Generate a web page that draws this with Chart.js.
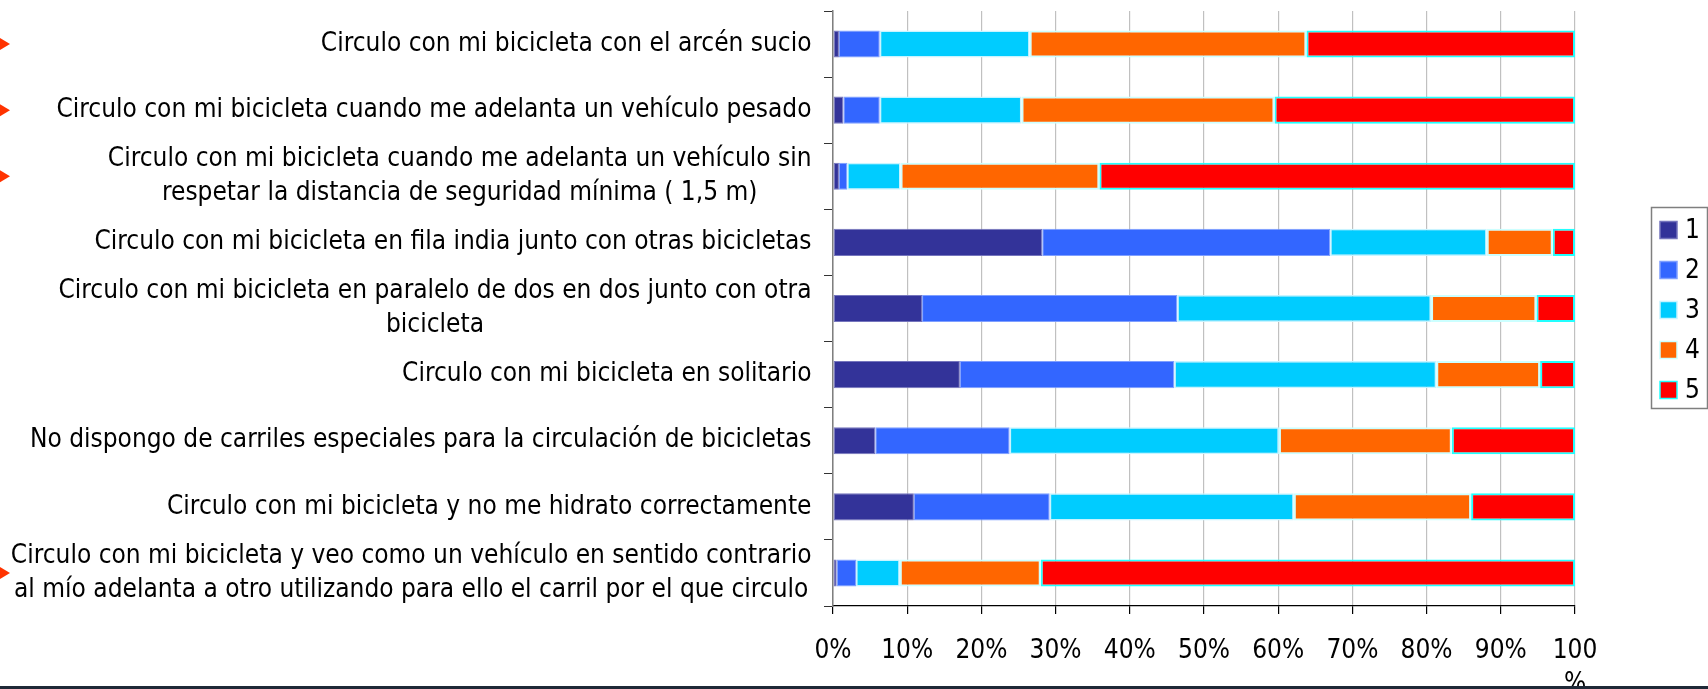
<!DOCTYPE html>
<html>
<head>
<meta charset="utf-8">
<script src="https://cdn.jsdelivr.net/npm/chart.js@4"></script>
<style>
  html, body { margin: 0; padding: 0; background: #fff; }
  #wrap { width: 1708px; height: 689px; position: relative; }
</style>
</head>
<body>
<div id="wrap"><canvas id="surveyChart"></canvas></div>
<script>
const categories = [
    'Circulo con mi bicicleta con el arcén sucio',
    'Circulo con mi bicicleta cuando me adelanta un vehículo pesado',
    ['Circulo con mi bicicleta cuando me adelanta un vehículo sin', 'respetar la distancia de seguridad mínima ( 1,5 m)'],
    'Circulo con mi bicicleta en fila india junto con otras bicicletas',
    ['Circulo con mi bicicleta en paralelo de dos en dos junto con otra', 'bicicleta'],
    'Circulo con mi bicicleta en solitario',
    'No dispongo de carriles especiales para la circulación de bicicletas',
    'Circulo con mi bicicleta y no me hidrato correctamente',
    ['Circulo con mi bicicleta y veo como un vehículo en sentido contrario', 'al mío adelanta a otro utilizando para ello el carril por el que circulo']
];

const seriesNames = ['1', '2', '3', '4', '5'];

// percentages per answer level
const level1 = [0.8, 1.4, 0.8, 28.2, 12.0, 17.1, 5.7, 10.9, 0.5];
const level2 = [5.5, 4.9, 1.1, 38.8, 34.4, 28.9, 18.1, 18.3, 2.6];
const level3 = [20.2, 19.1, 7.2, 21.1, 34.2, 35.3, 36.3, 32.9, 5.9];
const level4 = [37.3, 34.1, 26.8, 8.9, 14.2, 14.0, 23.3, 23.9, 19.0];
const level5 = [36.2, 40.5, 64.1, 3.0, 5.2, 4.7, 16.6, 14.0, 72.0];

const xTickLabels = ['0%', '10%', '20%', '30%', '40%', '50%', '60%', '70%', '80%', '90%', ['100', '%']];

// rows with the little red slide arrows on the far left
const arrowRows = [0, 1, 2, 8];

const fillColors = ['#333399', '#3366ff', '#00ccff', '#ff6600', '#ff0000'];
const edgeColors = ['#7575bd', '#7f9fff', '#c8f4ff', '#ccffff', '#22ffff'];
const edgeWidths = [1, 1, 1.5, 2, 2];

const FONT = "'DejaVu Sans Condensed', 'DejaVu Sans', sans-serif";
const FONT_SIZE = 26;

const allLevels = [level1, level2, level3, level4, level5];
const datasets = allLevels.map((vals, i) => ({
    label: seriesNames[i],
    data: vals,
    backgroundColor: fillColors[i],
    borderColor: edgeColors[i],
    borderWidth: edgeWidths[i],
    borderSkipped: false,
    categoryPercentage: 1,
    barPercentage: 0.41
}));

// y labels: each block right-aligned, lines centred inside the block
const labelPlugin = {
    id: 'labelPlugin',
    afterDraw(chart) {
        const ctx = chart.ctx;
        const yScale = chart.scales.y;
        const rightEdge = 811.5;
        const lineH = 34;
        ctx.save();
        ctx.font = FONT_SIZE + 'px ' + FONT;
        ctx.fillStyle = '#000';
        ctx.textBaseline = 'middle';
        ctx.textAlign = 'center';
        categories.forEach((lab, i) => {
            const lines = Array.isArray(lab) ? lab : [lab];
            const widest = Math.max(...lines.map(l => ctx.measureText(l).width));
            const cx = rightEdge - widest / 2;
            const cy = yScale.getPixelForValue(i);
            lines.forEach((l, k) => {
                ctx.fillText(l, cx, cy + (k - (lines.length - 1) / 2) * lineH);
            });
        });

        // red arrows
        ctx.fillStyle = '#ff3300';
        arrowRows.forEach(r => {
            const cy = yScale.getPixelForValue(r);
            ctx.beginPath();
            ctx.moveTo(0, cy - 6);
            ctx.lineTo(10, cy);
            ctx.lineTo(0, cy + 6);
            ctx.closePath();
            ctx.fill();
        });

        // legend box
        const lx = 1651, ly = 207, lw = 56, lh = 201;
        ctx.strokeStyle = '#7f7f7f';
        ctx.lineWidth = 1.5;
        ctx.strokeRect(lx + 0.5, ly + 0.5, lw, lh);
        ctx.textAlign = 'left';
        chart.data.datasets.forEach((ds, i) => {
            const cy = 230 + i * 40;
            ctx.fillStyle = ds.backgroundColor;
            ctx.fillRect(1660, cy - 8.5, 17, 17);
            ctx.strokeStyle = ds.borderColor;
            ctx.lineWidth = 1.5;
            ctx.strokeRect(1660, cy - 8.5, 17, 17);
            ctx.fillStyle = '#000';
            ctx.fillText(ds.label, 1685, cy + 1);
        });

        // dark strip at the slide bottom
        ctx.fillStyle = '#1f2937';
        ctx.fillRect(0, 686, chart.width, 3);
        ctx.restore();
    }
};

new Chart(document.getElementById('surveyChart'), {
    type: 'bar',
    data: {
        labels: categories,
        datasets: datasets
    },
    options: {
        indexAxis: 'y',
        responsive: true,
        maintainAspectRatio: false,
        animation: false,
        layout: {
            padding: { top: 11, right: 133, bottom: 0, left: 0 }
        },
        plugins: {
            legend: { display: false },
            tooltip: { enabled: false }
        },
        scales: {
            x: {
                type: 'linear',
                stacked: true,
                min: 0,
                max: 100,
                afterFit(scale) { scale.height = 83; },
                ticks: {
                    stepSize: 10,
                    padding: 21,
                    color: '#000',
                    font: { family: FONT, size: FONT_SIZE, lineHeight: 1.27 },
                    maxRotation: 0,
                    autoSkip: false,
                    callback: (val, idx) => xTickLabels[idx]
                },
                grid: {
                    color: '#c0c0c0',
                    tickColor: '#000',
                    tickLength: 8,
                    lineWidth: 1.2
                },
                border: { color: '#000', width: 1.2 }
            },
            y: {
                stacked: true,
                afterFit(scale) { scale.width = 833; },
                ticks: { display: false },
                grid: {
                    offset: true,
                    drawOnChartArea: false,
                    tickLength: 9,
                    color: '#333',
                    tickColor: '#333'
                },
                border: { color: '#7f7f7f', width: 1.5 }
            }
        }
    },
    plugins: [labelPlugin]
});
</script>
</body>
</html>
